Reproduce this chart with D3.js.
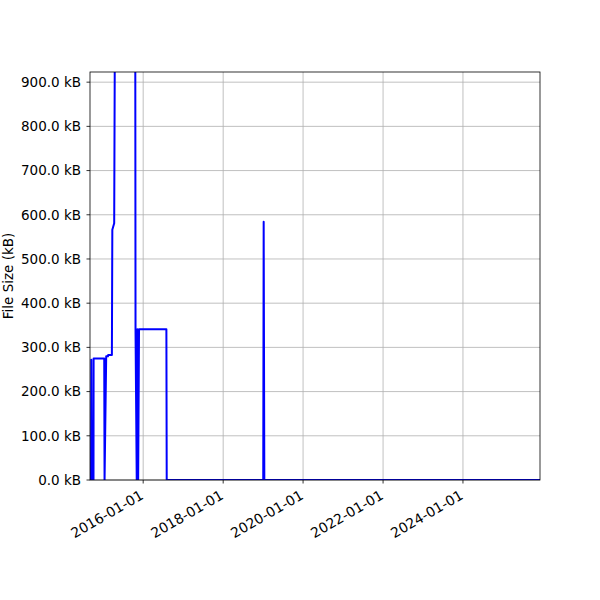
<!DOCTYPE html>
<html>
<head>
<meta charset="utf-8">
<script src="https://cdn.jsdelivr.net/npm/d3@7"></script>
<style>
  body { margin: 0; background: #fff; }
  text { font-family: "DejaVu Sans", sans-serif; fill: #000; }
</style>
</head>
<body>
<div id="chart"></div>
<script>
var width = 600;
var height = 600;
var margin = {top: 72, right: 60, bottom: 120, left: 90};

// file size history (kB)
var dates = [
  "2014-09-11", "2014-09-14", "2014-09-18", "2014-10-04", "2014-10-05",
  "2015-01-10", "2015-01-13", "2015-01-28", "2015-02-13", "2015-02-15",
  "2015-03-21", "2015-03-25", "2015-04-11", "2015-04-20", "2015-10-20",
  "2015-10-23", "2015-11-03", "2015-11-09", "2015-11-16", "2015-11-24",
  "2016-07-31", "2016-08-03", "2019-01-02", "2019-01-06", "2019-01-12",
  "2025-12-05"
];
var sizes = [
  0, 272, 0, 0, 275,
  275, 0, 280, 280, 283,
  283, 566, 581, 1200, 1200,
  341, 0, 341, 0, 341,
  341, 0, 0, 584, 0,
  0
];

var yTicks = [0, 100, 200, 300, 400, 500, 600, 700, 800, 900];
var xTicks = ["2016-01-01", "2018-01-01", "2020-01-01", "2022-01-01", "2024-01-01"];
var xDomain = ["2014-09-02", "2025-12-05"];
var yMax = 923;

var parse = d3.utcParse("%Y-%m-%d");
var data = dates.map(function(d, i) { return {date: parse(d), size: sizes[i]}; });

var svg = d3.select("#chart").append("svg")
  .attr("width", width)
  .attr("height", height);

svg.append("rect").attr("width", width).attr("height", height).attr("fill", "#fff");

var x = d3.scaleUtc()
  .domain(xDomain.map(parse))
  .range([margin.left, width - margin.right]);

var y = d3.scaleLinear()
  .domain([0, yMax])
  .range([height - margin.bottom, margin.top]);

var x0 = margin.left, x1 = width - margin.right;
var y0 = height - margin.bottom, y1 = margin.top;

// grid
svg.append("g").selectAll("line")
  .data(xTicks).enter().append("line")
  .attr("x1", function(d) { return x(parse(d)); })
  .attr("x2", function(d) { return x(parse(d)); })
  .attr("y1", y0).attr("y2", y1)
  .attr("stroke", "#b0b0b0").attr("stroke-width", 0.8);

svg.append("g").selectAll("line")
  .data(yTicks).enter().append("line")
  .attr("x1", x0).attr("x2", x1)
  .attr("y1", function(d) { return y(d); })
  .attr("y2", function(d) { return y(d); })
  .attr("stroke", "#b0b0b0").attr("stroke-width", 0.8);

// the line, clipped to the axes
svg.append("clipPath").attr("id", "clip")
  .append("rect")
  .attr("x", x0).attr("y", y1)
  .attr("width", x1 - x0).attr("height", y0 - y1);

var line = d3.line()
  .x(function(d) { return x(d.date); })
  .y(function(d) { return y(d.size); });

svg.append("path")
  .datum(data)
  .attr("clip-path", "url(#clip)")
  .attr("d", line)
  .attr("fill", "none")
  .attr("stroke", "#0000ff")
  .attr("stroke-width", 2)
  .attr("stroke-linejoin", "round")
  .attr("stroke-linecap", "butt");

// spines
svg.append("rect")
  .attr("x", x0).attr("y", y1)
  .attr("width", x1 - x0).attr("height", y0 - y1)
  .attr("fill", "none").attr("stroke", "#000").attr("stroke-width", 0.8);

// y axis ticks + labels
var fmt = d3.format(".1f");
var yt = svg.append("g").selectAll("g")
  .data(yTicks).enter().append("g")
  .attr("transform", function(d) { return "translate(" + x0 + "," + y(d) + ")"; });
yt.append("line").attr("x1", 0).attr("x2", -3.5).attr("stroke", "#000").attr("stroke-width", 0.8);
yt.append("text")
  .attr("x", -9)
  .attr("dy", "0.36em")
  .attr("text-anchor", "end")
  .style("font-size", "13.5px")
  .text(function(d) { return fmt(d) + " kB"; });

// x axis ticks + rotated labels
var xt = svg.append("g").selectAll("g")
  .data(xTicks).enter().append("g")
  .attr("transform", function(d) { return "translate(" + x(parse(d)) + "," + y0 + ")"; });
xt.append("line").attr("y1", 0).attr("y2", 3.5).attr("stroke", "#000").attr("stroke-width", 0.8);
xt.append("text")
  .attr("transform", "translate(-4,9) rotate(-30)")
  .attr("dy", "0.75em")
  .attr("text-anchor", "end")
  .style("font-size", "13.9px")
  .text(function(d) { return d; });

svg.append("text")
  .attr("transform", "translate(13," + ((y0 + y1) / 2) + ") rotate(-90)")
  .attr("text-anchor", "middle")
  .style("font-size", "13.5px")
  .text("File Size (kB)");
</script>
</body>
</html>
